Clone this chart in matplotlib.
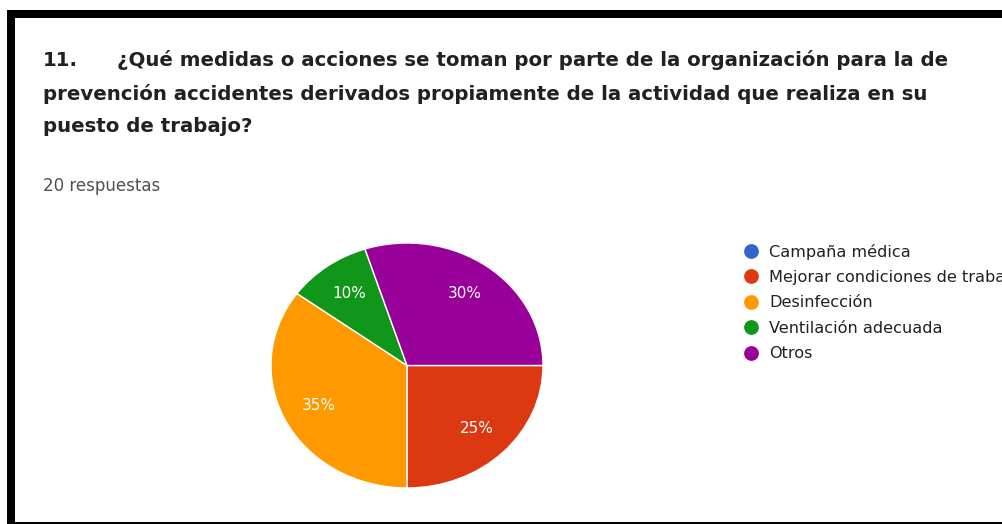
import matplotlib.pyplot as plt
from matplotlib.lines import Line2D
from matplotlib.patches import Rectangle

# survey answers (share of 20 responses)
categories = ["Campaña médica", "Mejorar condiciones de trabajo", "Desinfección",
              "Ventilación adecuada", "Otros"]
shares = [0, 25, 35, 10, 30]
colors = ["#3366cc", "#dc3912", "#ff9900", "#109618", "#990099"]

title_num = "11."
title_lines = ["¿Qué medidas o acciones se toman por parte de la organización para la de",
               "prevención accidentes derivados propiamente de la actividad que realiza en su",
               "puesto de trabajo?"]
n_resp = "20 respuestas"

W, H = 1003, 524
plt.rcParams['font.family'] = ['DejaVu Sans']
fig = plt.figure(figsize=(W / 100, H / 100), dpi=100)

# overlay in pixel coords for text and frame
bg = fig.add_axes([0, 0, 1, 1])
bg.set_xlim(0, W)
bg.set_ylim(H, 0)
bg.axis('off')

# black frame bits from the screenshot
bg.add_patch(Rectangle((7, 10), W, 8, color='black', lw=0))
bg.add_patch(Rectangle((7, 10), 8, H, color='black', lw=0))
bg.add_patch(Rectangle((7, 522), W, 2, color='black', lw=0))

tc = '#202124'
bg.text(43, 60, title_num, fontsize=14.2, fontweight='bold', color=tc, va='center')
bg.text(117, 60, title_lines[0], fontsize=14.2, fontweight='bold', color=tc, va='center')
bg.text(43, 94, title_lines[1], fontsize=14.2, fontweight='bold', color=tc, va='center')
bg.text(43, 127, title_lines[2], fontsize=14.2, fontweight='bold', color=tc, va='center')
bg.text(43, 186, n_resp, fontsize=12, color='#4d5156', va='center')

# pie (slightly stretched horizontally, like the screenshot)
px0, px1, py0, py1 = 271, 543, 243, 488
ax = fig.add_axes([px0 / W, (H - py1) / H, (px1 - px0) / W, (py1 - py0) / H])
wedges, texts, autotexts = ax.pie(
    shares, colors=colors, startangle=0, counterclock=False,
    autopct=lambda p: f"{p:.0f}%" if p > 0 else "", pctdistance=0.725,
    wedgeprops=dict(edgecolor='white', linewidth=1),
    textprops=dict(color='white', fontsize=11))
ax.set_aspect('auto')
ax.set_xlim(-1, 1)
ax.set_ylim(-1, 1)

# legend (the long label runs off the right edge, as in the screenshot)
handles = [Line2D([], [], marker='o', linestyle='none', markersize=9.6,
                  markerfacecolor=c, markeredgecolor=c) for c in colors]
fig.legend(handles, categories, loc='upper left', bbox_to_anchor=(743 / W, 1 - 243.5 / H),
           frameon=False, fontsize=11.6, labelspacing=0.65, handletextpad=0.62,
           handlelength=1.0, borderaxespad=0, borderpad=0, labelcolor='#202124')

fig.savefig('out.png', dpi=100)
